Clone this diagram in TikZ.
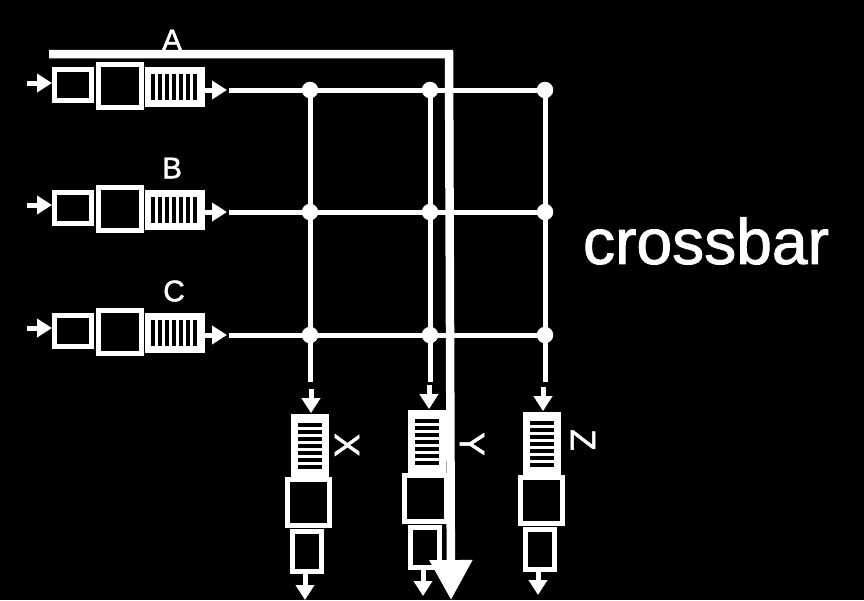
\documentclass[tikz,border=0pt]{standalone}
\usepackage{fontspec}
\setmainfont{Liberation Sans}
\newfontfamily\heavyfont[FakeBold=1.5]{Liberation Sans}
\usetikzlibrary{arrows.meta,positioning}

\begin{document}
\begin{tikzpicture}[
x=0.02cm, y=-0.02cm,
white,
port/.style={draw=white, line width=1mm, inner sep=0pt, fill=black},
small/.style={port, minimum width=7.4mm, minimum height=6.1mm},
big/.style={port, minimum width=8.6mm, minimum height=8.6mm},
outsmall/.style={port, minimum width=5.8mm, minimum height=8mm},
outbig/.style={port, minimum width=8.4mm, minimum height=9.2mm},
queue/.style={fill=white, inner sep=0pt, minimum width=12mm, minimum height=8mm},
outqueue/.style={fill=white, inner sep=0pt, minimum width=7.6mm, minimum height=12.6mm},
bar/.style={draw=black, line width=0.72mm},
wire/.style={draw=white, line width=1mm},
arr/.style={wire, -{Triangle[length=3mm, width=3.6mm]}},
bigarr/.style={draw=white, line width=1.7mm, -{Triangle[length=8mm, width=8.2mm]}},
dot/.style={circle, fill=white, inner sep=0pt, minimum size=3.3mm},
lbl/.style={font=\heavyfont\fontsize{17}{20}\selectfont, inner sep=0pt},
sidelbl/.style={font=\heavyfont\fontsize{20}{24}\selectfont, inner sep=0pt, rotate=-90}
]
\fill[black] (0,0) rectangle (864,600);
\useasboundingbox (0,0) rectangle (864,600);
% input ports
\foreach \name/\y/\c/\lx/\ly in {A/90/86/172/40, B/212/209/172/168, C/335/332/174/291}{
  \node[small] (small\name) at (73,\c-1) {};
  \node[big] (big\name) at (120,\c) {};
  \node[queue] (queue\name) at (175,\c+1) {};
  \foreach \i in {0,...,6}
    \draw[bar] (153+7*\i,\c-12) -- (153+7*\i,\c+14);
  \coordinate (in\name) at (27,\y-7);
  \coordinate (out\name) at (227,\y);
  \coordinate (start\name) at (229,\y);
  \draw[arr] (in\name) -- (small\name.west |- in\name);
  \draw[arr] (queue\name.east |- out\name) -- (out\name);
  \node[lbl] (label\name) at (\lx,\ly) {\name};
  \node[dot] (dot\name X) at (310,\y) {};
  \node[dot] (dot\name Y) at (430,\y) {};
  \node[dot] (dot\name Z) at (545,\y) {};
  \draw[wire] (start\name) -- (dot\name X.center) -- (dot\name Y.center) -- (dot\name Z.center);
}
% output ports
\foreach \name/\q/\b/\s/\v/\ia/\oa/\d/\tip/\lx/\ly in {X/310/308/307/310/311/305/0/600/347/445, Y/427/425/425/430/429/423/-4/596/472/444, Z/542/541/540/545/543/538/-2/595/583/440}{
  \node[outqueue] (oqueue\name) at (\q,445+\d) {};
  \foreach \i in {0,...,6}
    \draw[bar] (\q-12,425+\d+7*\i) -- (\q+12,425+\d+7*\i);
  \node[outbig] (obig\name) at (\b,502+\d) {};
  \node[outsmall] (osmall\name) at (\s,551+\d) {};
  \coordinate (end\name) at (\v,382);
  \coordinate (iarr\name) at (\ia,389+\d);
  \coordinate (oarr\name) at (\oa,\tip);
  \draw[wire] (dotA\name.center) -- (dotB\name.center) -- (dotC\name.center) -- (end\name);
  \draw[arr] (iarr\name) -- (iarr\name |- oqueue\name.north);
  \draw[arr] (oarr\name |- osmall\name.south) -- (oarr\name);
  \node[sidelbl] (label\name) at (\lx,\ly) {\name};
}
% the path through the crossbar
\coordinate (busstart) at (49,54);
\coordinate (buscorner) at (449,54);
\coordinate (busend) at (451,600);
\draw[bigarr] (busstart) -- (buscorner) -- (busend);
\node[font=\heavyfont\fontsize{36.5}{40}\selectfont, inner sep=0pt] (title) at (706,241) {crossbar};
\end{tikzpicture}
\end{document}
